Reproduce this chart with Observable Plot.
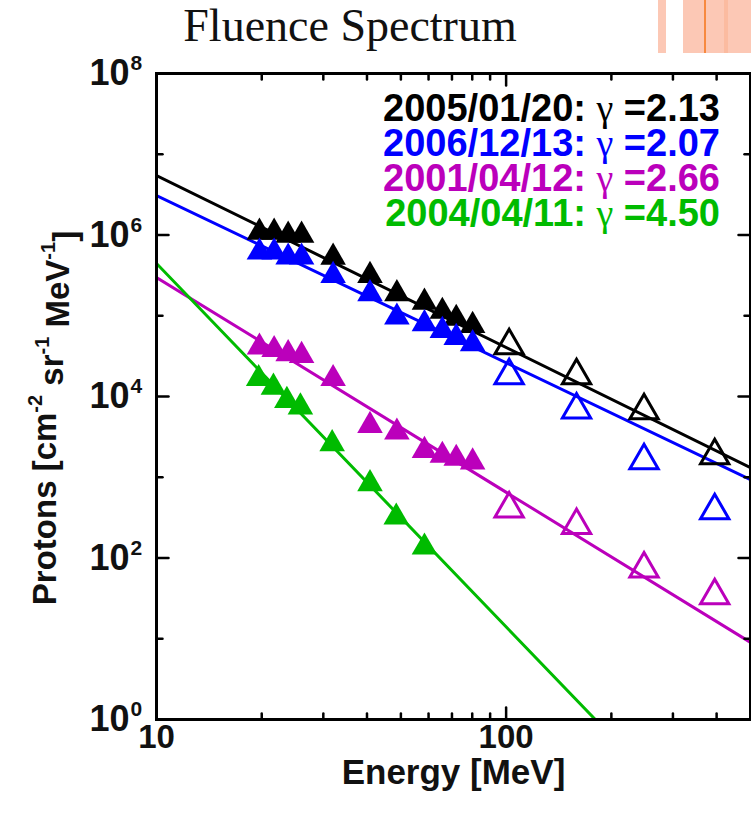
<!DOCTYPE html>
<html><head><meta charset="utf-8">
<script src="https://cdn.jsdelivr.net/npm/d3@7"></script>
<script src="https://cdn.jsdelivr.net/npm/@observablehq/plot@0.6"></script>
<style>
body{margin:0;background:#fff;}
#wrap{position:relative;width:751px;height:817px;overflow:hidden;background:#fff;}
#title{position:absolute;left:0;width:700px;top:0px;text-align:center;font-family:"Liberation Serif","DejaVu Serif",serif;font-size:46px;color:#111;line-height:52px;}
.stripe{position:absolute;top:0;height:53px;}
</style></head><body>
<div id="wrap"><div id="title">Fluence Spectrum</div></div>
<script>
// ---- data ----
const events = ["2005/01/20", "2006/12/13", "2001/04/12", "2004/04/11"];
const colors = ["#000000", "#0000ff", "#bb00bb", "#00bb00"];
const gammas = [2.13, 2.07, 2.66, 4.50];
const fitAt10 = [5.46e6, 3.08e6, 2.98e5, 4.44e5];      // fitted fluence at 10 MeV
const lineEnergy = [10, 500];

const filledEnergy = [19.7, 21.7, 23.8, 26.0, 32.0, 40.8, 48.7, 58.4, 65.7, 72.0, 80.2];
const filled20050120 = [1.08e6, 1.08e6, 9.9e5, 9.9e5, 5.3e5, 3.15e5, 1.87e5, 1.47e5, 1.13e5, 9.25e4, 7.57e4];
const filled20061213 = [6.12e5, 6.12e5, 5.31e5, 5.31e5, 3.15e5, 1.87e5, 9.6e4, 7.94e4, 6.56e4, 5.38e4, 4.5e4];
const filled20010412 = [4.08e4, 3.8e4, 3.38e4, 3.22e4, 1.66e4, 4.37e3, 3.61e3, 2.14e3, 1.86e3, 1.71e3, 1.54e3];
const greenEnergy = [19.6, 21.6, 23.6, 25.8, 31.8, 40.8, 48.5, 58.4];
const filled20040411 = [1.66e4, 1.30e4, 8.9e3, 7.4e3, 2.6e3, 830, 320, 136];

const openEnergy = [102, 159, 248, 395];
const open20050120 = [4.28e4, 1.82e4, 6.7e3, 1.86e3];
const open20061213 = [1.82e4, 6.84e3, 1.61e3, 387];
const open20010412 = [407, 253, 73.5, 34.3];

const xMajor = [10, 100];
const xMajorLabels = ["10", "100"];
const xMinor = [20, 30, 40, 50, 60, 70, 80, 90, 200, 300, 400];
const yMajor = [1, 1e2, 1e4, 1e6, 1e8];
const yMajorExp = ["0", "2", "4", "6", "8"];
const yMinor = [10, 1e3, 1e5, 1e7];

// ---- tables ----
const fitData = events.flatMap((ev, i) => lineEnergy.map(E => ({ev, E, v: fitAt10[i] * Math.pow(E / 10, -gammas[i])})));
const filledSets = [filled20050120, filled20061213, filled20010412];
const filledData = [];
events.slice(0, 3).forEach((ev, i) => filledEnergy.forEach((E, j) => filledData.push({ev, E, v: filledSets[i][j]})));
greenEnergy.forEach((E, j) => filledData.push({ev: events[3], E, v: filled20040411[j]}));
const openSets = [open20050120, open20061213, open20010412];
const openData = [];
events.slice(0, 3).forEach((ev, i) => openEnergy.forEach((E, j) => openData.push({ev, E, v: openSets[i][j]})));

const tickShape = {draw(ctx, l) { ctx.moveTo(0, 0); ctx.lineTo(0, -l); }};
const font = "'Liberation Sans', Arial, Helvetica, sans-serif";
const tk = (data, ch, anchor, rotate, len) => Plot.vector(data, {
  [ch]: d => d, frameAnchor: anchor, rotate, length: len, anchor: "start",
  shape: tickShape, stroke: "black", strokeWidth: 2.5
});

const chart = Plot.plot({
  width: 751, height: 817,
  marginTop: 73, marginBottom: 98, marginLeft: 156, marginRight: 1,
  style: {fontFamily: font, background: "transparent"},
  x: {type: "log", domain: [10, 500], axis: null},
  y: {type: "log", domain: [1, 1e8], axis: null},
  color: {domain: events, range: colors},
  marks: [
    Plot.line(fitData, {x: "E", y: "v", z: "ev", stroke: "ev", strokeWidth: 3, clip: true}),
    Plot.dot(filledData, {x: "E", y: "v", fill: "ev", symbol: "triangle", r: 9.5, stroke: "none"}),
    Plot.dot(openData, {x: "E", y: "v", stroke: "ev", fill: "none", symbol: "triangle", r: 10.5, strokeWidth: 3}),
    tk(xMajor, "x", "bottom", 0, 12), tk(xMinor, "x", "bottom", 0, 6),
    tk(xMajor, "x", "top", 180, 12), tk(xMinor, "x", "top", 180, 6),
    tk(yMajor, "y", "left", 90, 12), tk(yMinor, "y", "left", 90, 6),
    tk(yMajor, "y", "right", 270, 12), tk(yMinor, "y", "right", 270, 6),
    Plot.frame({stroke: "black", strokeWidth: 3}),
    Plot.text(xMajor, {x: d => d, text: (d, i) => xMajorLabels[i], frameAnchor: "bottom", dy: 28, fontSize: 33, fontWeight: "bold", fill: "#111"}),
    Plot.text(yMajor, {y: d => d, text: () => "10", frameAnchor: "left", textAnchor: "end", dx: -27, fontSize: 36, fontWeight: "bold", fill: "#111"}),
    Plot.text(yMajor, {y: d => d, text: (d, i) => yMajorExp[i], frameAnchor: "left", textAnchor: "start", dx: -26, dy: -10, fontSize: 21, fontWeight: "bold", fill: "#111"}),
    Plot.text(["Energy [MeV]"], {frameAnchor: "bottom", dy: 64, fontSize: 35, fontWeight: "bold", fill: "#111"})
  ]
});

const svg = d3.select(chart);
// y-axis title with superscripts
const yl = svg.append("text")
  .attr("transform", "translate(47,418) rotate(-90)")
  .attr("text-anchor", "middle").attr("dominant-baseline", "middle")
  .attr("font-family", font).attr("font-weight", "bold").attr("font-size", 33).attr("fill", "#111");
const parts = [["Protons [cm", 0], ["-2", 1], [" sr", 0], ["-1", 1], [" MeV", 0], ["-1", 1], ["]", 0]];
let sup = false;
parts.forEach(([t, s]) => {
  const ts = yl.append("tspan").text(t);
  if (s && !sup) { ts.attr("dy", "-0.5em").attr("font-size", 20); sup = true; }
  else if (s) { ts.attr("font-size", 20); }
  else if (!s && sup) { ts.attr("dy", "0.5em"); sup = false; }
});

// legend
events.forEach((ev, i) => {
  const t = svg.append("text")
    .attr("x", 720).attr("y", 121 + i * 35)
    .attr("text-anchor", "end")
    .attr("font-family", font).attr("font-weight", "bold").attr("font-size", 38).attr("fill", colors[i]);
  t.append("tspan").text(ev + ": ");
  t.append("tspan").text("γ").attr("font-family", "'Liberation Serif', 'DejaVu Serif', serif").attr("font-weight", "normal");
  t.append("tspan").text(" =" + gammas[i].toFixed(2));
});

const wrap = document.getElementById("wrap");
wrap.insertBefore(chart, wrap.firstChild);
chart.style.position = "absolute"; chart.style.left = "0"; chart.style.top = "0";

// decorative stripes (top right)
[[658, 8, "#fcc8b5"], [683, 68, "#fcc8b5"], [724, 4, "#fbbba0"], [704, 2, "#f7893f"]].forEach(([x, w, c]) => {
  const d = document.createElement("div");
  d.className = "stripe"; d.style.left = x + "px"; d.style.width = w + "px"; d.style.background = c;
  wrap.appendChild(d);
});
</script>
</body></html>
